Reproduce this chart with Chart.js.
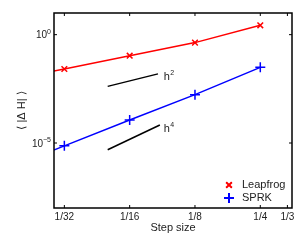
<!DOCTYPE html>
<html>
<head>
<meta charset="utf-8">
<script src="https://cdn.jsdelivr.net/npm/chart.js@4/dist/chart.umd.min.js"></script>
<style>
  body { margin: 0; background: #fff; }
  canvas { display: block; }
</style>
</head>
<body>
<canvas id="myChart" width="307" height="248"></canvas>
<script>
// step sizes (1/64 is off the axis, only the line runs in from the left edge)
const steps = [1/64, 1/32, 1/16, 1/8, 1/4]
const leapfrog = [0.0065, 0.026, 0.107, 0.43, 2.7]
const sprk = [4.6e-7, 7.4e-6, 1.15e-4, 1.7e-3, 0.031]

// reference slopes
const h2_x = [0.0495, 0.0844]
const h2_y = [0.0041, 0.0155]
const h4_x = [0.0495, 0.0861]
const h4_y = [4.9e-6, 6.8e-5]

const x_ticks = [1/32, 1/16, 1/8, 1/4, 1/3]
const x_labels = ['1/32', '1/16', '1/8', '1/4', '1/3']
const y_ticks = [1, 1e-5]
const y_exps = ['0', '\u22125']

const font = 'Liberation Sans, Arial, sans-serif'

const pts = (xs, ys) => xs.map((x, i) => ({ x: x, y: ys[i] }))

// MATLAB style box with inward ticks, y labels with exponents, slope labels and inside legend
const boxPlugin = {
  id: 'box',
  afterDraw(chart) {
    const ctx = chart.ctx
    const a = chart.chartArea
    const xs = chart.scales.x
    const ys = chart.scales.y
    ctx.save()
    ctx.strokeStyle = '#000'
    ctx.lineWidth = 1.5
    ctx.strokeRect(a.left, a.top, a.right - a.left, a.bottom - a.top)
    ctx.lineWidth = 1
    ctx.beginPath()
    x_ticks.forEach(v => {
      let px = xs.getPixelForValue(v)
      ctx.moveTo(px, a.bottom); ctx.lineTo(px, a.bottom - 3)
      ctx.moveTo(px, a.top); ctx.lineTo(px, a.top + 3)
    })
    y_ticks.forEach(v => {
      let py = ys.getPixelForValue(v)
      ctx.moveTo(a.left, py); ctx.lineTo(a.left + 3, py)
      ctx.moveTo(a.right, py); ctx.lineTo(a.right - 3, py)
    })
    ctx.stroke()

    ctx.fillStyle = '#222'
    ctx.textBaseline = 'middle'
    y_ticks.forEach((v, i) => {
      let py = ys.getPixelForValue(v)
      ctx.font = '7px ' + font
      ctx.textAlign = 'right'
      let ex = a.left - 3
      ctx.fillText(y_exps[i], ex, py - 3)
      let w = ctx.measureText(y_exps[i]).width
      ctx.font = '10px ' + font
      ctx.fillText('10', ex - w, py + 1)
    })

    ctx.textAlign = 'left'
    ctx.font = '11px ' + font
    ctx.fillText('h', xs.getPixelForValue(0.0898), ys.getPixelForValue(0.0121) + 1)
    ctx.fillText('h', xs.getPixelForValue(0.0898), ys.getPixelForValue(4.94e-5) + 1)
    ctx.font = '7px ' + font
    ctx.fillText('2', xs.getPixelForValue(0.0898) + 6.5, ys.getPixelForValue(0.0121) - 3)
    ctx.fillText('4', xs.getPixelForValue(0.0898) + 6.5, ys.getPixelForValue(4.94e-5) - 3)

    // legend
    ctx.font = '11px ' + font
    const lx = a.right - 63
    const ly = a.bottom - 23
    chart.data.datasets.slice(0, 2).forEach((ds, i) => {
      let y = ly + i * 13
      Chart.helpers.drawPoint(ctx, {
        pointStyle: ds.pointStyle, radius: ds.pointRadius[1], rotation: 0,
        borderWidth: 2
      }, lx, y)
      ctx.strokeStyle = ds.borderColor
      ctx.lineWidth = 2
      ctx.stroke()
      ctx.fillStyle = '#222'
      ctx.fillText(ds.label, lx + 13, y)
    })
    ctx.restore()
  }
}

new Chart(document.getElementById('myChart'), {
  type: 'line',
  data: {
    datasets: [{
      label: 'Leapfrog',
      data: pts(steps, leapfrog),
      borderColor: '#ff0000',
      backgroundColor: '#ff0000',
      borderWidth: 1.5,
      pointStyle: 'crossRot',
      pointRadius: [0, 4, 4, 4, 4],
      pointBorderWidth: 1.5
    }, {
      label: 'SPRK',
      data: pts(steps, sprk),
      borderColor: '#0000ff',
      backgroundColor: '#0000ff',
      borderWidth: 1.5,
      pointStyle: 'cross',
      pointRadius: [0, 5, 5, 5, 5],
      pointBorderWidth: 1.5
    }, {
      label: 'h2',
      data: pts(h2_x, h2_y),
      borderColor: '#000',
      borderWidth: 1.5,
      pointRadius: 0
    }, {
      label: 'h4',
      data: pts(h4_x, h4_y),
      borderColor: '#000',
      borderWidth: 1.5,
      pointRadius: 0
    }]
  },
  options: {
    responsive: false,
    animation: false,
    layout: { padding: { top: 13, right: 15, left: 0, bottom: 0 } },
    plugins: { legend: { display: false }, tooltip: { enabled: false } },
    scales: {
      x: {
        type: 'logarithmic',
        min: 0.028,
        max: 0.35,
        grid: { display: false, drawTicks: false },
        border: { display: false },
        afterBuildTicks: s => { s.ticks = x_ticks.map(v => ({ value: v })) },
        afterFit: s => { s.height = 40 },
        ticks: {
          autoSkip: false, maxRotation: 0, padding: 3, color: '#222',
          font: { family: font, size: 10 },
          callback: (v, i) => x_labels[i]
        },
        title: {
          display: true, text: 'Step size', color: '#222',
          font: { family: font, size: 11 },
          padding: { top: 0, bottom: 13.4 }
        }
      },
      y: {
        type: 'logarithmic',
        min: 1e-8,
        max: 10,
        grid: { display: false, drawTicks: false },
        border: { display: false },
        afterBuildTicks: s => { s.ticks = y_ticks.map(v => ({ value: v })) },
        afterFit: s => { s.width = 54 },
        ticks: {
          display: false
        },
        title: {
          display: true, text: '\u27E8 |\u0394 H| \u27E9', color: '#222',
          font: { family: font, size: 11 },
          padding: { top: 15.4, bottom: 0 }
        }
      }
    }
  },
  plugins: [boxPlugin]
})
</script>
</body>
</html>
